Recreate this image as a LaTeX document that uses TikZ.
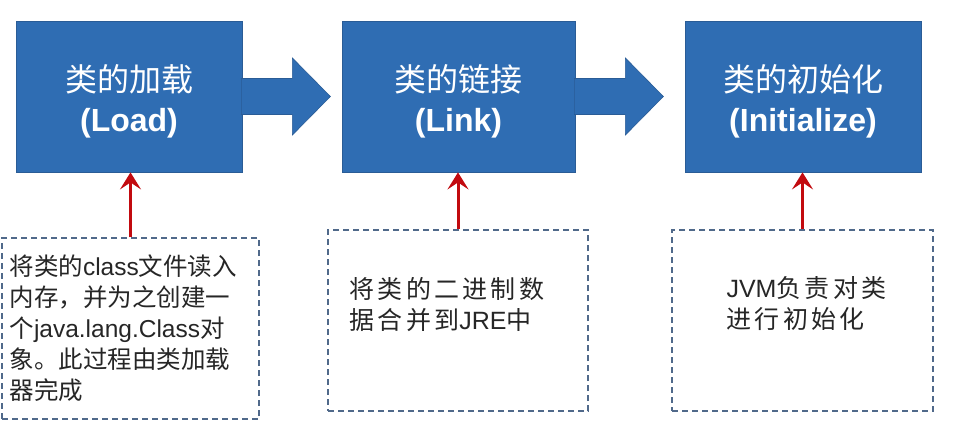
\documentclass[tikz,border=0pt]{standalone}
\usepackage{fontspec}
\setmainfont{Noto Sans CJK SC}
\newfontfamily\lat{Liberation Sans}
\usetikzlibrary{arrows.meta, calc}
\definecolor{stageblue}{HTML}{2F6DB3}
\definecolor{stageedge}{HTML}{2A5C96}
\definecolor{noteedge}{HTML}{50698A}
\definecolor{pointred}{HTML}{C20A0F}

\begin{document}
\begin{tikzpicture}[x=1pt, y=-1pt,
  stage/.style={fill=stageblue, draw=stageedge, line width=0.8pt, text=white,
    minimum height=151pt, align=center, font=\fontsize{32}{40}\selectfont},
  note/.style={draw=noteedge, dash pattern=on 6pt off 4pt, line width=1.4pt,
    minimum height=181pt},
  notetext/.style={anchor=west, align=left, text=black!85, inner sep=0pt,
    font=\fontsize{24.5}{31}\selectfont},
  widetext/.style={notetext, font=\fontsize{25}{31}\selectfont\addfontfeature{LetterSpace=13}},
  up/.style={pointred, line width=3pt, -{Stealth[length=17pt, width=21pt, inset=7pt]}}
]
\useasboundingbox (0,0) rectangle (953,428);

% the three stages
\node[stage, minimum width=226pt] (load) at (129,96.5) {\rule{0pt}{36pt}类的加载\\{\lat\bfseries (Load)}};
\node[stage, minimum width=233pt] (link) at (458.5,96.5) {\rule{0pt}{36pt}类的链接\\{\lat\bfseries (Link)}};
\node[stage, minimum width=236pt] (init) at (803,96.5) {\rule{0pt}{36pt}类的初始化\\{\lat\bfseries (Initialize)}};

% block arrows between stages
\foreach \a in {load,link} {
  \filldraw[fill=stageblue, draw=stageedge, line width=0.6pt]
    ($(\a.east)+(-1,-18)$) -- ($(\a.east)+(50,-18)$) -- ($(\a.east)+(50,-38.5)$)
    -- ($(\a.east)+(88,0)$) -- ($(\a.east)+(50,38.5)$) -- ($(\a.east)+(50,18)$)
    -- ($(\a.east)+(-1,18)$) -- cycle;
}

% notes
\node[note, minimum width=257pt] (loadnote) at (130.5,328.5) {};
\node[note, minimum width=260pt] (linknote) at (458,320.5) {};
\node[note, minimum width=261pt] (initnote) at (802.5,320.5) {};

\node[notetext] (loadtext) at ($(loadnote.west)+(8,0)$)
  {将类的{\lat class}文件读入\\内存，并为之创建一\\个{\lat java.lang.Class}对\\象。此过程由类加载\\器完成};
\node[widetext] (linktext) at ($(linknote.west)+(22,-15.5)$)
  {将类的二进制数\\据合并到{\lat JRE}中};
\node[widetext] (inittext) at ($(initnote.west)+(55,-17)$)
  {{\lat JVM}负责对类\\进行初始化};

% pointers up to the stages
\draw[up] (loadnote.north) -- (loadnote.north |- load.south);
\draw[up] (linknote.north) -- (linknote.north |- link.south);
\draw[up] (initnote.north) -- (initnote.north |- init.south);
\end{tikzpicture}
\end{document}
